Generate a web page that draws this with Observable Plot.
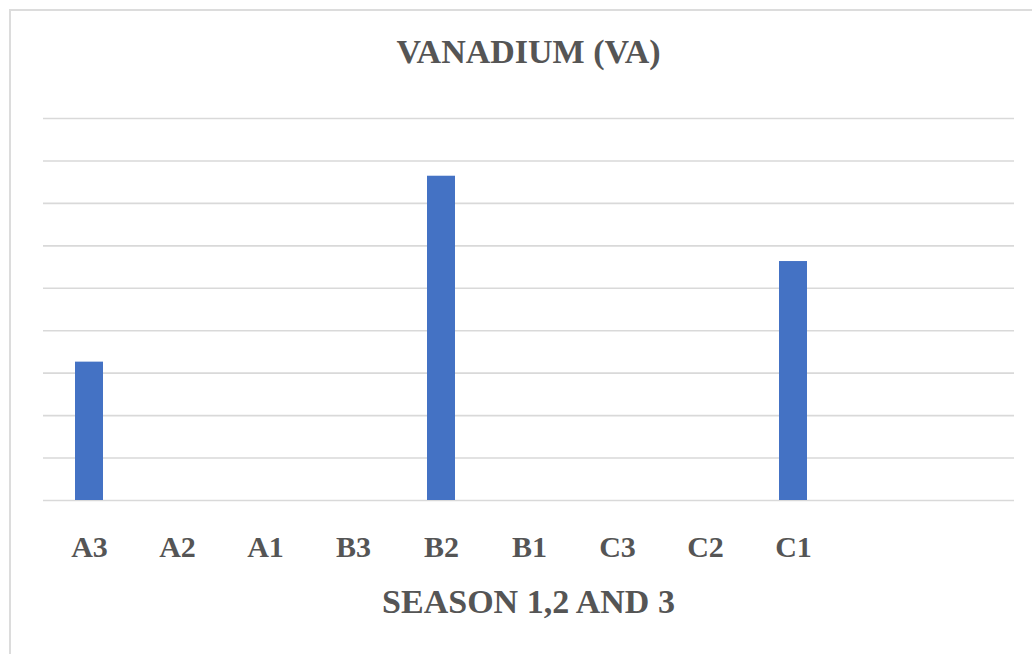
<!DOCTYPE html>
<html>
<head>
<meta charset="utf-8">
<script src="https://cdn.jsdelivr.net/npm/d3@7"></script>
<script src="https://cdn.jsdelivr.net/npm/@observablehq/plot@0.6"></script>
<style>
  html, body { margin: 0; padding: 0; background: #fff; overflow: hidden; }
  #page { position: relative; width: 1032px; height: 654px; overflow: hidden; background: #fff; }
  #frame { position: absolute; left: 9px; top: 9px; width: 1060px; height: 700px;
           border-left: 2px solid #dcdcdc; border-top: 2px solid #dcdcdc; }
  .txt { position: absolute; left: 43px; width: 971px; text-align: center;
         font-family: "Liberation Serif", "Times New Roman", Times, "DejaVu Serif", serif; font-weight: bold;
         color: #555555; line-height: 1; white-space: nowrap; }
  #title { top: 34.5px; font-size: 34px; }
  #xlabel { top: 584.5px; font-size: 34px; }
  #chart { position: absolute; left: 0; top: 90px; }
</style>
</head>
<body>
<div id="page">
  <div id="frame"></div>
  <div id="title" class="txt">VANADIUM (VA)</div>
  <div id="chart"></div>
  <div id="xlabel" class="txt">SEASON 1,2 AND 3</div>
</div>
<script>
// Data (value in gridline units; the axis carries no numbers)
const categories = ["A3", "A2", "A1", "B3", "B2", "B1", "C3", "C2", "C1"];
const emptySlots = ["_e1", "_e2"];           // two unlabeled category slots at the right
const values = [3.26, 0, 0, 0, 7.64, 0, 0, 0, 5.63];
const gridTicks = [0, 1, 2, 3, 4, 5, 6, 7, 8, 9];

const data = categories.map((c, i) => ({cat: c, v: values[i]}));

const chart = Plot.plot({
  width: 1032,
  height: 540,
  marginLeft: 43,
  marginRight: 18,
  marginTop: 28,
  marginBottom: 130,
  style: {background: "transparent", overflow: "visible"},
  x: {
    type: "band",
    domain: [...categories, ...emptySlots],
    paddingInner: 0.683,
    paddingOuter: 0.3415,
    label: null,
    axis: null
  },
  y: {domain: [0, 9], label: null, axis: null},
  marks: [
    Plot.gridY(gridTicks, {stroke: "#d9d9d9", strokeOpacity: 1, strokeWidth: 1.6}),
    Plot.barY(data, {x: "cat", y: "v", fill: "#4472c4"}),
    Plot.axisX({
      tickSize: 0,
      tickPadding: 35,
      tickFormat: d => categories.includes(d) ? d : "",
      fontSize: 30,
      fontWeight: "bold",
      fontFamily: "'Liberation Serif', 'Times New Roman', Times, 'DejaVu Serif', serif",
      fill: "#555555",
      label: null
    })
  ]
});
document.getElementById("chart").appendChild(chart);
</script>
</body>
</html>
